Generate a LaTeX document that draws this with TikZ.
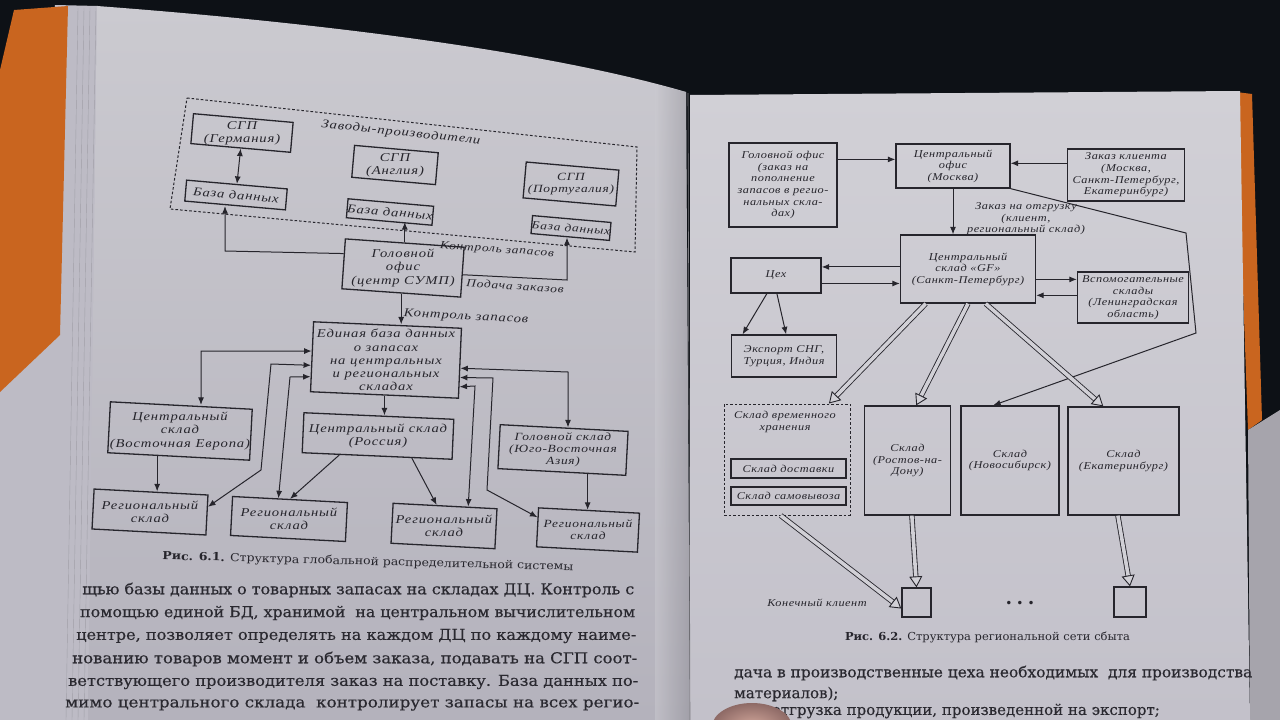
\documentclass[tikz,border=0pt]{standalone}
\usepackage{graphicx}
\usepackage{fontspec}
\setmainfont{DejaVu Serif}
\newfontfamily\dgfontL{Liberation Serif}[FakeStretch=1.22,LetterSpace=7]
\newfontfamily\dgfontR{Liberation Serif}[FakeStretch=1.17,LetterSpace=5]
\newfontfamily\capfont{DejaVu Serif}
\newfontfamily\bodyfont{DejaVu Serif}[FakeBold=0.35]
\usetikzlibrary{arrows.meta,calc}
\definecolor{bgdark}{HTML}{0D1116}
\definecolor{ink}{HTML}{26252C}
\definecolor{bodyink}{HTML}{2A2930}
\definecolor{pageLt}{HTML}{CBCAD0}
\definecolor{pageLb}{HTML}{B4B2BC}
\definecolor{pageRt}{HTML}{D1D0D6}
\definecolor{pageRb}{HTML}{C3C1CA}
\definecolor{stack}{HTML}{BDBBC5}
\definecolor{cover}{HTML}{C9651F}
\definecolor{skinin}{HTML}{D3A89C}
\definecolor{skinout}{HTML}{8E6A66}
\newcommand\dgL{\dgfontL\itshape\fontsize{12}{13.2}\selectfont}
\newcommand\dgS{\dgfontL\itshape\fontsize{11}{12.2}\selectfont}
\newcommand\dgR{\dgfontR\itshape\fontsize{10.5}{11.6}\selectfont}
\newcommand\bodytxt{\bodyfont\fontsize{15}{18}\selectfont}
\newcommand\fitw[2]{\resizebox{#1}{\height}{#2}}
\newcommand\hollowarrow[2]{\draw[hshaft] (#1) -- (#2); \draw[hhead] ($(#2)!11pt!(#1)$) -- (#2);}
\begin{document}
\begin{tikzpicture}[x=1pt,y=-1pt,
  box/.style={draw=ink, line width=1.3pt, align=center, inner sep=0pt, text=ink},
  lbl/.style={align=center, inner sep=0pt, text=ink},
  arr/.style={draw=ink, line width=1pt, -{Latex[length=7.5pt,width=6pt]}},
  darr/.style={draw=ink, line width=1pt, {Latex[length=7.5pt,width=6pt]}-{Latex[length=7.5pt,width=6pt]}},
  dashedbox/.style={draw=ink, line width=1pt, dash pattern=on 2.6pt off 2pt},
  hshaft/.style={draw=ink, line width=0.85pt, double=pageRt, double distance=3.6pt, shorten >=8pt},
  hhead/.style={draw=ink, line width=0.9pt, -{Triangle[length=11pt,width=13pt,fill=pageRt]}},
  bodyline/.style={inner sep=0pt, text=bodyink},
]
\useasboundingbox (0,0) rectangle (1280,720);
% ---------------- background: the open book ----------------
\fill[bgdark] (0,0) rectangle (1280,720);
\fill[stack] (55,5) -- (98,6) -- (90,720) -- (0,720) -- (0,390) -- cycle;
\foreach \dx in {72,78,84,90} {\draw[stack!70!black, line width=0.4pt, opacity=0.5] (\dx+6,8) -- (\dx-6,720);}
\fill[cover] (14,10) -- (68,6) -- (60,335) -- (0,392) -- (0,70) -- cycle;
\shade[top color=pageLt, bottom color=pageLb] (97,6) .. controls (350,25) and (560,55) .. (686,92) -- (690,720) -- (88,720) -- cycle;
\shade[left color=pageLt, right color=pageLb!80!black, opacity=0.5] (655,84) -- (686,92) -- (690,720) -- (655,720) -- cycle;
\fill[cover] (1236,92) -- (1252,94) -- (1262,420) -- (1248,430) -- cycle;
\fill[pageRb!85!black] (1248,430) -- (1280,410) -- (1280,720) -- (1250,720) -- cycle;
\shade[top color=pageRt, bottom color=pageRb] (690,95) -- (1240,91) -- (1250,720) -- (690,720) -- cycle;
\draw[ink!60, line width=0.6pt] (688,93) -- (690,720);

% ---------------- Fig. 6.1 ----------------
\draw[dashedbox] (187,98) -- (637,147) -- (635,252) -- (170,209) -- cycle;
\node[lbl, font=\dgL, rotate=-6] (zav) at (401,133) {Заводы-производители};
\node[box, minimum width=100pt, minimum height=30pt, rotate=-5] (sgpG) at (242,133) {};
\node[lbl, font=\dgL] (sgpGt) at (sgpG.center) {СГП\\(Германия)};
\node[box, minimum width=84pt, minimum height=32pt, rotate=-5] (sgpA) at (395,165) {};
\node[lbl, font=\dgL] (sgpAt) at (sgpA.center) {СГП\\(Англия)};
\node[box, minimum width=93pt, minimum height=36pt, rotate=-5] (sgpP) at (571,184) {};
\node[lbl, font=\dgS] (sgpPt) at (sgpP.center) {СГП\\(Португалия)};
\node[box, font=\dgL, minimum width=101pt, minimum height=21pt, rotate=-5] (dbG) at (236,195) {База данных};
\node[box, font=\dgL, minimum width=84pt, minimum height=19pt, rotate=-5] (dbA) at (390,212) {База данных};
\node[box, font=\dgS, minimum width=75pt, minimum height=18pt, rotate=-5] (dbP) at (571,228) {База данных};
\node[box, minimum width=119pt, minimum height=50pt, rotate=-4] (hq) at (403,268) {};
\node[lbl, font=\dgL] (hqt) at (hq.center) {Головной\\офис\\(центр СУМП)};
\node[lbl, font=\dgS, rotate=-4] (lk1) at (497,250) {Контроль запасов};
\node[lbl, font=\dgS, rotate=-4] (lpz) at (515,286) {Подача заказов};
\node[lbl, font=\dgL, rotate=-3] (lk2) at (466,317) {Контроль запасов};

\node[box, minimum width=148pt, minimum height=70pt, rotate=-2.5] (eb) at (386,360) {};
\node[lbl, font=\dgL] (ebt) at (eb.center) {Единая база данных\\о запасах\\на центральных\\и региональных\\складах};
\node[box, minimum width=142pt, minimum height=51pt, rotate=-3] (csVE) at (180,431) {};
\node[lbl, font=\dgL] (csVEt) at (csVE.center) {Центральный\\склад\\(Восточная Европа)};
\node[box, minimum width=150pt, minimum height=40pt, rotate=-2.5] (csR) at (378,436) {};
\node[lbl, font=\dgL] (csRt) at (csR.center) {Центральный склад\\(Россия)};
\node[box, minimum width=128pt, minimum height=44pt, rotate=-3] (gsA) at (563,450) {};
\node[lbl, font=\dgS] (gsAt) at (gsA.center) {Головной склад\\(Юго-Восточная\\Азия)};
\node[box, minimum width=114pt, minimum height=40pt, rotate=-3] (rs1) at (150,512) {};
\node[lbl, font=\dgL] (rs1t) at (rs1.center) {Региональный\\склад};
\node[box, minimum width=115pt, minimum height=39pt, rotate=-3] (rs2) at (289,519) {};
\node[lbl, font=\dgL] (rs2t) at (rs2.center) {Региональный\\склад};
\node[box, minimum width=104pt, minimum height=40pt, rotate=-3] (rs3) at (444,526) {};
\node[lbl, font=\dgL] (rs3t) at (rs3.center) {Региональный\\склад};
\node[box, minimum width=101pt, minimum height=39pt, rotate=-3] (rs4) at (588,530) {};
\node[lbl, font=\dgS] (rs4t) at (rs4.center) {Региональный\\склад};

\draw[darr] (sgpG.south) -- (dbG.north);
\coordinate (cG) at (225,251);
\draw[arr] ($(hq.north west)!0.3!(hq.south west)$) -- (cG) -- (cG |- dbG.south);
\draw[arr] (hq.north) -- (hq.north |- dbA.south);
\coordinate (cP) at (567,280);
\draw[arr] ($(hq.north east)!0.55!(hq.south east)$) -- (cP) -- (cP |- dbP.south);
\draw[arr] (hq.south) -- (hq.south |- eb.north);

\coordinate (cVE) at (201,351);
\draw[darr] ($(eb.north west)!0.42!(eb.south west)$) -- (cVE) -- (cVE |- csVE.north);
\coordinate (cA) at (271,364);
\coordinate (cB) at (261,470);
\draw[darr] ($(eb.north west)!0.62!(eb.south west)$) -- (cA) -- (cB) -- ($(rs1.north east)!0.3!(rs1.south east)$);
\coordinate (cC) at (290,377);
\draw[darr] ($(eb.north west)!0.78!(eb.south west)$) -- (cC) -- ($(rs2.north west)!0.4!(rs2.north east)$);
\draw[arr] (eb.south) -- (eb.south |- csR.north);
\draw[arr] ($(csVE.south west)!0.35!(csVE.south east)$) coordinate (t1) -- (t1 |- rs1.north);
\draw[arr] ($(csR.south west)!0.25!(csR.south east)$) -- (rs2.north);
\draw[arr] ($(csR.south west)!0.73!(csR.south east)$) -- ($(rs3.north west)!0.42!(rs3.north east)$);
\coordinate (cD) at (568,372);
\draw[darr] ($(eb.north east)!0.57!(eb.south east)$) -- (cD) -- (cD |- gsA.north);
\coordinate (cE) at (493,378);
\coordinate (cF) at (487,490);
\draw[darr] ($(eb.north east)!0.70!(eb.south east)$) -- (cE) -- (cF) -- ($(rs4.north west)!0.25!(rs4.south west)$);
\coordinate (cH) at (475,386);
\draw[darr] ($(eb.north east)!0.83!(eb.south east)$) -- (cH) -- ($(rs3.north west)!0.72!(rs3.north east)$);
\draw[arr] ($(gsA.south west)!0.7!(gsA.south east)$) coordinate (t2) -- (t2 |- rs4.north);

\node[lbl, rotate=-1.5] (cap1) at (368,562) {\fitw{411pt}{\capfont\fontsize{11}{13}\selectfont\textbf{Рис. 6.1.} Структура глобальной распределительной системы}};

% ---------------- Fig. 6.2 ----------------
\node[box, font=\dgR, minimum width=108pt, minimum height=84pt] (hoR) at (783,185) {Головной офис\\(заказ на\\пополнение\\запасов в регио-\\нальных скла-\\дах)};
\node[box, font=\dgR, minimum width=114pt, minimum height=44pt] (coR) at (953,166) {Центральный\\офис\\(Москва)};
\node[box, font=\dgR, minimum width=117pt, minimum height=52pt] (zk) at (1126,175) {Заказ клиента\\(Москва,\\Санкт-Петербург,\\Екатеринбург)};
\node[lbl, font=\dgR] (zo) at (1026,219) {Заказ на отгрузку\\(клиент,\\региональный склад)};
\node[box, font=\dgR, minimum width=135pt, minimum height=68pt] (csGF) at (968,269) {Центральный\\склад «GF»\\(Санкт-Петербург)};
\node[box, font=\dgR, minimum width=90pt, minimum height=35pt] (cex) at (776,275.5) {Цех};
\node[box, font=\dgR, minimum width=111pt, minimum height=51pt] (vs) at (1133,297.5) {Вспомогательные\\склады\\(Ленинградская\\область)};
\node[box, font=\dgR, minimum width=105pt, minimum height=42pt] (exp) at (784,356) {Экспорт СНГ,\\Турция, Индия};
\node[dashedbox, minimum width=126pt, minimum height=111pt, inner sep=0pt] (svh) at (787,459.5) {};
\node[lbl, font=\dgR] (svhT) at (785,422) {Склад временного\\хранения};
\node[box, font=\dgR, minimum width=115pt, minimum height=19pt] (sd) at (788.5,468.5) {Склад доставки};
\node[box, font=\dgR, minimum width=115pt, minimum height=18pt] (ss) at (788.5,496) {Склад самовывоза};
\node[box, font=\dgR, minimum width=86pt, minimum height=109pt] (rost) at (907.5,460.5) {Склад\\(Ростов-на-\\Дону)};
\node[box, font=\dgR, minimum width=98pt, minimum height=109pt] (novo) at (1010,460.5) {Склад\\(Новосибирск)};
\node[box, font=\dgR, minimum width=111pt, minimum height=108pt] (ekb) at (1123.5,461) {Склад\\(Екатеринбург)};
\node[box, minimum width=29pt, minimum height=29pt] (c1) at (916.5,602.5) {};
\node[box, minimum width=32pt, minimum height=30pt] (c3) at (1130,602) {};
\node[lbl, font=\dgR] (kk) at (817,603) {Конечный клиент};
\node[lbl, font=\capfont\fontsize{12}{14}\selectfont] (dots) at (1020,604) {•\,\,•\,\,•};

\draw[arr] ($(hoR.north east)!0.2!(hoR.south east)$) coordinate (a1) -- (a1 -| coR.west);
\draw[arr] ($(zk.north west)!0.28!(zk.south west)$) coordinate (a2) -- (a2 -| coR.east);
\draw[arr] (coR.south) -- (coR.south |- csGF.north);
\draw[arr] ($(csGF.north west)!0.47!(csGF.south west)$) coordinate (a3) -- (a3 -| cex.east);
\draw[arr] ($(cex.north east)!0.72!(cex.south east)$) coordinate (a4) -- (a4 -| csGF.west);
\draw[arr] ($(csGF.north east)!0.65!(csGF.south east)$) coordinate (a5) -- (a5 -| vs.west);
\coordinate (a6) at ($(csGF.north east)!0.88!(csGF.south east)$);
\draw[arr] (a6 -| vs.west) -- (a6);
\draw[arr] ($(cex.south west)!0.4!(cex.south east)$) -- ($(exp.north west)!0.11!(exp.north east)$);
\draw[arr] ($(cex.south west)!0.51!(cex.south east)$) -- ($(exp.north west)!0.52!(exp.north east)$);
\coordinate (r1) at (1186,233);
\coordinate (r2) at (1196,333);
\draw[arr] (coR.south east) -- (r1) -- (r2) -- ($(novo.north west)!0.33!(novo.north east)$);

\coordinate (h1s) at ($(csGF.south west)!0.19!(csGF.south east)$);
\coordinate (h1e) at ($(svh.north west)!0.83!(svh.north east)$);
\hollowarrow{h1s}{h1e}
\coordinate (h2s) at ($(csGF.south west)!0.5!(csGF.south east)$);
\coordinate (h2e) at ($(rost.north west)!0.6!(rost.north east)$);
\hollowarrow{h2s}{h2e}
\coordinate (h3s) at ($(csGF.south west)!0.63!(csGF.south east)$);
\coordinate (h3e) at ($(ekb.north west)!0.32!(ekb.north east)$);
\hollowarrow{h3s}{h3e}
\coordinate (h4s) at ($(rost.south west)!0.55!(rost.south east)$);
\hollowarrow{h4s}{c1.north}
\coordinate (h5s) at ($(ekb.south west)!0.45!(ekb.south east)$);
\hollowarrow{h5s}{c3.north}
\coordinate (h6s) at ($(svh.south west)!0.45!(svh.south east)$);
\coordinate (h6e) at ($(c1.north west)!0.7!(c1.south west)$);
\hollowarrow{h6s}{h6e}

\node[lbl] (cap2) at (987.5,637) {\fitw{285pt}{\capfont\fontsize{11}{13}\selectfont\textbf{Рис. 6.2.} Структура региональной сети сбыта}};

% ---------------- body text ----------------
\node[bodyline, anchor=west] (bl1) at (82,590) {\fitw{552pt}{\bodytxt щью базы данных о товарных запасах на складах ДЦ. Контроль с}};
\node[bodyline, anchor=west] (bl2) at (80,613) {\fitw{555pt}{\bodytxt помощью единой БД, хранимой\ \ на центральном вычислительном}};
\node[bodyline, anchor=west] (bl3) at (76,636) {\fitw{560pt}{\bodytxt центре, позволяет определять на каждом ДЦ по каждому наиме-}};
\node[bodyline, anchor=west] (bl4) at (72,659) {\fitw{565pt}{\bodytxt нованию товаров момент и объем заказа, подавать на СГП соот-}};
\node[bodyline, anchor=west] (bl5) at (68,682) {\fitw{570pt}{\bodytxt ветствующего производителя заказ на поставку. База данных по-}};
\node[bodyline, anchor=west] (bl6) at (65,705) {\fitw{574pt}{\bodytxt мимо центрального склада\ \ контролирует запасы на всех регио-}};
\node[bodyline, anchor=west] (br1) at (734,673) {\fitw{518pt}{\bodytxt дача в производственные цеха необходимых\ \ для производства}};
\node[bodyline, anchor=west] (br2) at (734,694) {\bodytxt материалов);};
\node[bodyline, anchor=east] (br3) at (1160,711) {\bodytxt отгрузка продукции, произведенной на экспорт;};

% finger in the lower edge of the photo
\shade[inner color=skinin, outer color=skinout] (752,727) ellipse (40pt and 24pt);
\end{tikzpicture}
\end{document}
